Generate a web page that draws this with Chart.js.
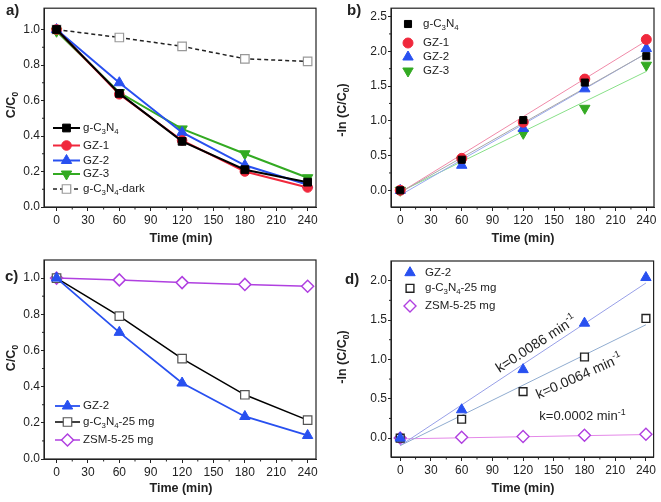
<!DOCTYPE html>
<html>
<head>
<meta charset="utf-8">
<script src="https://cdn.jsdelivr.net/npm/chart.js@4.4.0/dist/chart.umd.min.js"></script>
<style>
  html, body { margin: 0; padding: 0; background: #fff; }
  #wrap { position: relative; width: 661px; height: 502px; background: #fff; }
  canvas { position: absolute; }
</style>
</head>
<body>
<div id="wrap">
  <canvas id="pa" width="330" height="250" style="left:0;top:0"></canvas>
  <canvas id="pb" width="331" height="250" style="left:330px;top:0"></canvas>
  <canvas id="pc" width="330" height="252" style="left:0;top:250px"></canvas>
  <canvas id="pd" width="331" height="252" style="left:330px;top:250px"></canvas>
</div>
<script>
// sampling times and axis ticks
const times = [0, 60, 120, 180, 240];
const timeTicks = [0, 30, 60, 90, 120, 150, 180, 210, 240];
const fitX = [0, 240];

// a) C/C0 vs time
const aGCN  = [1.0, 0.64, 0.37, 0.21, 0.14];
const aGZ1  = [1.0, 0.635, 0.375, 0.20, 0.11];
const aGZ2  = [1.0, 0.70, 0.42, 0.235, 0.125];
const aGZ3  = [0.99, 0.645, 0.44, 0.30, 0.165];
const aDark = [1.0, 0.955, 0.905, 0.835, 0.82];
const ccTicks = [0, 0.2, 0.4, 0.6, 0.8, 1.0];

// b) -ln(C/C0) vs time, with linear fits
const bGCN = [0, 0.44, 1.01, 1.55, 1.93];
const bGZ1 = [0, 0.46, 0.98, 1.60, 2.17];
const bGZ2 = [0, 0.36, 0.89, 1.46, 2.04];
const bGZ3 = [0, 0.43, 0.82, 1.18, 1.80];
const bFitGCN = [-0.03, 1.97];
const bFitGZ1 = [-0.03, 2.15];
const bFitGZ2 = [-0.07, 1.97];
const bFitGZ3 = [-0.02, 1.71];
const bTicks = [0, 0.5, 1.0, 1.5, 2.0, 2.5];

// c) C/C0, same mass comparison
const cGZ2 = [1.0, 0.70, 0.42, 0.235, 0.13];
const cGCN = [1.0, 0.79, 0.555, 0.355, 0.215];
const cZSM = [1.0, 0.99, 0.975, 0.965, 0.955];

// d) -ln(C/C0), with fits
const dGZ2 = [0, 0.36, 0.87, 1.46, 2.04];
const dGCN = [0, 0.24, 0.59, 1.03, 1.52];
const dZSM = [0, 0.01, 0.02, 0.035, 0.05];
const dFitGZ2 = [-0.095, 1.97];
const dFitGCN = [-0.095, 1.44];
const dFitZSM = [-0.01, 0.045];
const dTicks = [0, 0.5, 1.0, 1.5, 2.0];

const INK = '#222';
const FONT = "'Liberation Sans', Arial, sans-serif";
const RED = '#f0283c', BLUE = '#2850f0', GREEN = '#33aa22', VIOLET = '#b040e0';

const pts = (xs, ys) => xs.map((x, i) => ({ x: x, y: ys[i] }));

// text with _x subscripts and ^{..} superscripts
function parseRich(str) {
  const out = [];
  let i = 0, buf = '';
  while (i < str.length) {
    const ch = str[i];
    if (ch === '_' || ch === '^') {
      if (buf) { out.push({ t: buf, k: '' }); buf = ''; }
      let t;
      if (str[i + 1] === '{') {
        const j = str.indexOf('}', i);
        t = str.slice(i + 2, j);
        i = j + 1;
      } else {
        t = str[i + 1];
        i += 2;
      }
      out.push({ t: t, k: ch === '_' ? 'sub' : 'sup' });
    } else {
      buf += ch;
      i++;
    }
  }
  if (buf) out.push({ t: buf, k: '' });
  return out;
}

function drawRich(ctx, str, x, y, size, weight, align) {
  const parts = parseRich(str);
  const fontFor = p => (weight || 'normal') + ' ' + (p.k ? size * 0.68 : size) + 'px ' + FONT;
  let w = 0;
  parts.forEach(p => { ctx.font = fontFor(p); p.w = ctx.measureText(p.t).width; w += p.w; });
  let cx = x;
  if (align === 'center') cx = x - w / 2;
  ctx.textBaseline = 'middle';
  ctx.textAlign = 'left';
  ctx.fillStyle = INK;
  parts.forEach(p => {
    ctx.font = fontFor(p);
    let dy = 0;
    if (p.k === 'sub') dy = size * 0.3;
    if (p.k === 'sup') dy = -size * 0.35;
    ctx.fillText(p.t, cx, y + dy);
    cx += p.w;
  });
}

function markerOpts(ds) {
  return {
    pointStyle: ds.pointStyle,
    radius: ds.pointRadius,
    rotation: ds.pointRotation || 0,
    borderWidth: ds.pointBorderWidth || 1
  };
}

// frame, minor ticks, titles, legend and notes
const panelPlugin = {
  id: 'panel',
  afterDraw(chart) {
    const o = chart.options.plugins.panel;
    const ctx = chart.ctx;
    const a = chart.chartArea;
    const sx = chart.scales.x, sy = chart.scales.y;
    ctx.save();
    ctx.strokeStyle = INK;
    ctx.lineWidth = 1.2;
    ctx.strokeRect(a.left, a.top, a.right - a.left, a.bottom - a.top);
    // minor ticks
    ctx.lineWidth = 1;
    ctx.beginPath();
    for (let i = 0; i < timeTicks.length - 1; i++) {
      const px = sx.getPixelForValue((timeTicks[i] + timeTicks[i + 1]) / 2);
      ctx.moveTo(px, a.bottom); ctx.lineTo(px, a.bottom + 2.5);
    }
    for (let i = 0; i < o.yTicks.length - 1; i++) {
      const py = sy.getPixelForValue((o.yTicks[i] + o.yTicks[i + 1]) / 2);
      ctx.moveTo(a.left, py); ctx.lineTo(a.left - 2, py);
    }
    ctx.stroke();

    drawRich(ctx, o.label, o.labelPos[0], o.labelPos[1], 15, 'bold', 'left');
    drawRich(ctx, 'Time (min)', o.xTitlePos[0], o.xTitlePos[1], 12.5, 'bold', 'center');
    ctx.save();
    ctx.translate(o.yTitlePos[0], o.yTitlePos[1]);
    ctx.rotate(-Math.PI / 2);
    drawRich(ctx, o.yTitle, 0, 0, 12.5, 'bold', 'center');
    ctx.restore();

    // legend
    const lg = o.legend;
    lg.items.forEach((it, i) => {
      const ds = chart.data.datasets[it.ds];
      const y = lg.ys[i];
      if (lg.line) {
        ctx.save();
        ctx.strokeStyle = ds.borderColor;
        ctx.lineWidth = ds.borderWidth;
        ctx.setLineDash(ds.borderDash || []);
        ctx.beginPath();
        ctx.moveTo(lg.line[0], y); ctx.lineTo(lg.line[1], y);
        ctx.stroke();
        ctx.restore();
      }
      const mx = lg.line ? (lg.line[0] + lg.line[1]) / 2 : lg.markerX;
      ctx.save();
      ctx.fillStyle = ds.pointBackgroundColor;
      ctx.strokeStyle = ds.pointBorderColor;
      ctx.lineWidth = ds.pointBorderWidth || 1;
      Chart.helpers.drawPoint(ctx, markerOpts(ds), mx, y);
      ctx.restore();
      drawRich(ctx, it.text, lg.textX, y, 11.5, 'normal', 'left');
    });

    (o.notes || []).forEach(n => {
      const px = sx.getPixelForValue(n.x), py = sy.getPixelForValue(n.y);
      ctx.save();
      ctx.translate(px, py);
      ctx.rotate(n.angle * Math.PI / 180);
      drawRich(ctx, n.text, 0, 0, n.size, 'normal', 'center');
      ctx.restore();
    });
    ctx.restore();
  }
};

function xScale(min, max, h) {
  return {
    type: 'linear', min: min, max: max,
    afterBuildTicks: s => { s.ticks = timeTicks.map(v => ({ value: v })); },
    afterFit: s => { s.height = h; },
    grid: { drawOnChartArea: false, tickLength: 4, color: INK, lineWidth: 1 },
    border: { color: INK, width: 1 },
    ticks: { font: { family: FONT, size: 12 }, color: INK, padding: 2, maxRotation: 0, autoSkip: false }
  };
}

function yScale(min, max, w, tickVals) {
  return {
    type: 'linear', min: min, max: max,
    afterBuildTicks: s => { s.ticks = tickVals.map(v => ({ value: v })); },
    afterFit: s => { s.width = w; },
    grid: { drawOnChartArea: false, tickLength: 3, color: INK, lineWidth: 1 },
    border: { color: INK, width: 1 },
    ticks: { font: { family: FONT, size: 12 }, color: INK, padding: 1, autoSkip: false,
             callback: v => Number(v).toFixed(1) }
  };
}

function series(data, color, style, r, extra) {
  return Object.assign({
    data: data, borderColor: color, backgroundColor: color,
    pointBackgroundColor: color, pointBorderColor: color, pointBorderWidth: 1,
    pointStyle: style, pointRadius: r, borderWidth: 2, showLine: true, tension: 0
  }, extra || {});
}

function fitLine(ys, color) {
  return { data: pts(fitX, ys), borderColor: color, borderWidth: 1, pointRadius: 0, showLine: true };
}

function makeChart(id, datasets, scales, padding, panel) {
  return new Chart(document.getElementById(id), {
    type: 'scatter',
    data: { datasets: datasets },
    options: {
      responsive: false, animation: false, devicePixelRatio: 1,
      layout: { padding: padding },
      scales: scales,
      plugins: { legend: { display: false }, tooltip: { enabled: false }, panel: panel }
    },
    plugins: [panelPlugin]
  });
}

// a)
makeChart('pa', [
  series(pts(times, aGCN), '#000', 'rect', 5.5),
  series(pts(times, aGZ1), RED, 'circle', 4.8),
  series(pts(times, aGZ2), BLUE, 'triangle', 6),
  series(pts(times, aGZ3), GREEN, 'triangle', 6, { pointRotation: 180 }),
  series(pts(times, aDark), INK, 'rect', 6, { pointBackgroundColor: '#fff', pointBorderColor: '#999',
    pointBorderWidth: 1.2, borderWidth: 1.5, borderDash: [4, 3] })
], { x: xScale(-12, 248, 43), y: yScale(0, 1.12, 44, ccTicks) },
{ left: 0, top: 4, right: 14, bottom: 0 },
{ label: 'a)', labelPos: [6, 11], xTitlePos: [181, 239], yTitle: 'C/C_0', yTitlePos: [12, 105], yTicks: ccTicks,
  legend: { line: [53, 80], textX: 83, ys: [128, 145.5, 160.5, 174, 189],
    items: [{ ds: 0, text: 'g-C_3N_4' }, { ds: 1, text: 'GZ-1' }, { ds: 2, text: 'GZ-2' },
            { ds: 3, text: 'GZ-3' }, { ds: 4, text: 'g-C_3N_4-dark' }] } });

// b)
makeChart('pb', [
  series(pts(times, bGCN), '#000', 'rect', 5, { showLine: false }),
  series(pts(times, bGZ1), RED, 'circle', 5, { showLine: false }),
  series(pts(times, bGZ2), BLUE, 'triangle', 6, { showLine: false }),
  series(pts(times, bGZ3), GREEN, 'triangle', 6, { showLine: false, pointRotation: 180 }),
  fitLine(bFitGCN, '#a8a8a8'),
  fitLine(bFitGZ1, '#f08aa8'),
  fitLine(bFitGZ2, '#98a8f0'),
  fitLine(bFitGZ3, '#88e088')
], { x: xScale(-9, 247.5, 43), y: yScale(-0.24, 2.62, 61, bTicks) },
{ left: 0, top: 4, right: 6, bottom: 0 },
{ label: 'b)', labelPos: [17, 11], xTitlePos: [193, 239], yTitle: '-ln (C/C_0)', yTitlePos: [13, 110], yTicks: bTicks,
  legend: { markerX: 78, textX: 93, ys: [24, 43, 57, 71],
    items: [{ ds: 0, text: 'g-C_3N_4' }, { ds: 1, text: 'GZ-1' }, { ds: 2, text: 'GZ-2' }, { ds: 3, text: 'GZ-3' }] } });

// c)
makeChart('pc', [
  series(pts(times, cGZ2), BLUE, 'triangle', 6, { borderWidth: 1.8 }),
  series(pts(times, cGCN), '#000', 'rect', 6, { pointBackgroundColor: '#fff', pointBorderColor: '#555',
    pointBorderWidth: 1.2, borderWidth: 1.5 }),
  series(pts(times, cZSM), VIOLET, 'rectRot', 6, { pointBackgroundColor: '#fff', pointBorderWidth: 1.5, borderWidth: 1.5 })
], { x: xScale(-12, 248, 43), y: yScale(0, 1.10, 44, ccTicks) },
{ left: 0, top: 10, right: 14, bottom: 0 },
{ label: 'c)', labelPos: [5, 27], xTitlePos: [181, 239], yTitle: 'C/C_0', yTitlePos: [12, 108], yTicks: ccTicks,
  legend: { line: [55, 80], textX: 83, ys: [156, 172, 190],
    items: [{ ds: 0, text: 'GZ-2' }, { ds: 1, text: 'g-C_3N_4-25 mg' }, { ds: 2, text: 'ZSM-5-25 mg' }] } });

// d)
makeChart('pd', [
  series(pts(times, dGZ2), BLUE, 'triangle', 6, { showLine: false }),
  series(pts(times, dGCN), '#222', 'rect', 5.5, { showLine: false, pointBackgroundColor: '#fff', pointBorderWidth: 1.4 }),
  series(pts(times, dZSM), VIOLET, 'rectRot', 6, { showLine: false, pointBackgroundColor: '#fff', pointBorderWidth: 1.4 }),
  fitLine(dFitGZ2, '#98a0e8'),
  fitLine(dFitGCN, '#90acd0'),
  fitLine(dFitZSM, '#e488e8')
], { x: xScale(-9, 247.5, 45), y: yScale(-0.24, 2.25, 61, dTicks) },
{ left: 0, top: 11, right: 6, bottom: 0 },
{ label: 'd)', labelPos: [15, 30], xTitlePos: [193, 239], yTitle: '-ln (C/C_0)', yTitlePos: [13, 107], yTicks: dTicks,
  legend: { markerX: 80, textX: 95, ys: [22.7, 38.3, 56],
    items: [{ ds: 0, text: 'GZ-2' }, { ds: 1, text: 'g-C_3N_4-25 mg' }, { ds: 2, text: 'ZSM-5-25 mg' }] },
  notes: [
    { text: 'k=0.0086 min^{-1}', x: 133, y: 1.19, angle: -33, size: 14 },
    { text: 'k=0.0064 min^{-1}', x: 175, y: 0.78, angle: -24, size: 14 },
    { text: 'k=0.0002 min^{-1}', x: 178, y: 0.27, angle: 0, size: 13 }
  ] });
</script>
</body>
</html>
